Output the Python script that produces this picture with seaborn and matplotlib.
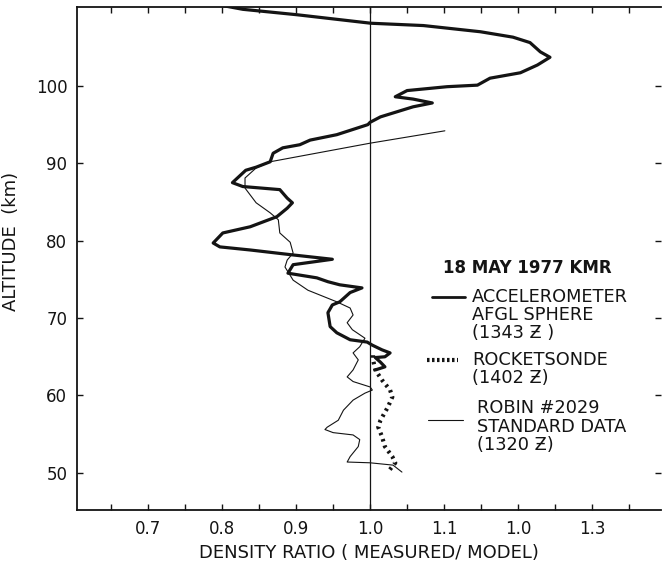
import matplotlib
matplotlib.use('Agg')
import matplotlib.pyplot as plt
import seaborn as sns
from matplotlib.lines import Line2D
from matplotlib.ticker import FixedLocator

# accelerometer, AFGL sphere (1343 Z): density ratio / altitude (km), read top to bottom
accel_ratio = [0.800, 0.828, 0.901, 1.001, 1.072, 1.149, 1.193, 1.216, 1.230, 1.243,
               1.226, 1.203, 1.162, 1.145, 1.104, 1.050, 1.034, 1.058, 1.084, 1.058,
               1.014, 1.000, 0.997, 0.955, 0.919, 0.905, 0.882, 0.869, 0.865, 0.846,
               0.832, 0.814, 0.828, 0.878, 0.888, 0.895, 0.888, 0.874, 0.838, 0.801,
               0.788, 0.797, 0.838, 0.892, 0.949, 0.896, 0.889, 0.928, 0.943, 0.959,
               0.989, 0.973, 0.959, 0.949, 0.943, 0.946, 0.955, 0.973, 0.996, 1.003,
               1.016, 1.027, 1.020, 1.007, 1.014, 1.020, 1.007]
accel_alt = [110.4, 109.9, 109.2, 108.1, 107.8, 107.0, 106.3, 105.6, 104.4, 103.7,
             102.7, 101.7, 101.0, 100.1, 99.9, 99.4, 98.6, 98.3, 97.8, 97.3,
             96.0, 95.3, 95.0, 93.7, 93.0, 92.4, 92.0, 91.3, 90.2, 89.5,
             89.1, 87.5, 87.0, 86.6, 85.5, 84.9, 84.2, 83.1, 81.8, 81.0,
             79.7, 79.2, 78.8, 78.2, 77.6, 76.9, 75.8, 75.2, 74.7, 74.3,
             73.9, 73.3, 72.1, 71.7, 70.7, 68.9, 68.1, 67.2, 66.9, 66.5,
             65.9, 65.5, 65.0, 64.9, 64.3, 63.7, 63.3]

# rocketsonde (1402 Z)
rocket_ratio = [1.004, 1.004, 1.007, 1.016, 1.027, 1.030, 1.024, 1.014, 1.011, 1.016,
                1.020, 1.030, 1.034, 1.024]
rocket_alt = [65.2, 64.6, 63.3, 62.0, 60.7, 59.8, 58.5, 56.8, 55.9, 54.7,
              53.4, 52.1, 51.3, 50.1]

# ROBIN #2029 standard data (1320 Z)
robin_ratio = [1.101, 1.000, 0.865, 0.846, 0.831, 0.831, 0.846, 0.865, 0.876, 0.878,
               0.892, 0.896, 0.888, 0.885, 0.896, 0.916, 0.955, 0.973, 0.977, 0.969,
               0.976, 0.993, 0.986, 0.977, 0.984, 0.977, 0.969, 0.977, 1.000, 1.003,
               0.993, 0.977, 0.964, 0.957, 0.942, 0.939, 0.950, 0.977, 0.986, 0.984,
               0.973, 0.969, 1.000, 1.031, 1.043]
robin_alt = [94.2, 92.6, 90.2, 89.4, 88.1, 86.8, 84.9, 83.6, 82.7, 81.0,
             79.8, 78.4, 77.5, 76.6, 74.9, 73.6, 72.1, 71.3, 70.4, 69.4,
             68.5, 67.4, 66.3, 65.5, 64.6, 63.3, 62.4, 61.8, 61.1, 60.7,
             60.3, 59.4, 58.1, 56.8, 55.9, 55.6, 55.2, 54.9, 54.3, 53.4,
             52.1, 51.4, 51.3, 51.0, 50.1]

x_ticks = [0.7, 0.8, 0.9, 1.0, 1.1, 1.2, 1.3]
x_tick_labels = ['0.7', '0.8', '0.9', '1.0', '1.1', '1.0', '1.3']
x_minor = [0.65, 0.75, 0.85, 0.95, 1.05, 1.15, 1.25, 1.35]
y_ticks = [50, 60, 70, 80, 90, 100]

ink = '#141414'

sns.set_theme(style='ticks')
plt.rcParams['font.family'] = ['DejaVu Sans']

fig = plt.figure(figsize=(6.62, 5.68), dpi=100)
ax = fig.add_axes([0.1163, 0.1021, 0.8822, 0.8856])

sns.lineplot(x=robin_ratio, y=robin_alt, sort=False, estimator=None,
             color=ink, linewidth=0.8, ax=ax)
sns.lineplot(x=accel_ratio, y=accel_alt, sort=False, estimator=None,
             color=ink, linewidth=2.3, ax=ax)
sns.lineplot(x=rocket_ratio, y=rocket_alt, sort=False, estimator=None,
             color=ink, linewidth=3.0, linestyle=(0, (0.6, 1.0)), ax=ax)

# reference line at ratio 1.0
ax.axvline(1.0, color=ink, linewidth=0.9)

ax.set_xlim(0.604, 1.393)
ax.set_ylim(45.2, 110.2)

ax.xaxis.set_major_locator(FixedLocator(x_ticks))
ax.xaxis.set_minor_locator(FixedLocator(x_minor))
ax.set_xticklabels(x_tick_labels)
ax.set_yticks(y_ticks)
ax.set_yticklabels([str(v) for v in y_ticks])

ax.tick_params(axis='both', which='both', direction='in', color=ink,
               labelcolor=ink, labelsize=12, width=1.0)
ax.tick_params(axis='x', which='both', length=4.5, top=True, pad=7.5)
ax.tick_params(axis='y', which='major', length=4.5, right=True, pad=7)

for side in ['left', 'bottom', 'top']:
    ax.spines[side].set_color(ink)
    ax.spines[side].set_linewidth(1.3)
ax.spines['right'].set_visible(False)

ax.set_xlabel('DENSITY RATIO ( MEASURED/ MODEL)', fontsize=13, color=ink, labelpad=4)
ax.set_ylabel('ALTITUDE  (km)', fontsize=13, color=ink)
ax.yaxis.set_label_coords(-0.098, 0.533)

# hand-drawn style key
ax.text(0.627, 0.481, '18 MAY 1977 KMR', transform=ax.transAxes, fontsize=12,
        fontweight='bold', color=ink, va='center')
ax.add_line(Line2D([0.608, 0.664], [0.4235, 0.4235], transform=ax.transAxes,
                   color=ink, linewidth=2.0))
ax.add_line(Line2D([0.599, 0.652], [0.298, 0.298], transform=ax.transAxes,
                   color=ink, linewidth=3.0, linestyle=(0, (0.6, 0.6))))
ax.add_line(Line2D([0.601, 0.661], [0.179, 0.179], transform=ax.transAxes,
                   color=ink, linewidth=0.8))

key_text = [
    (0.676, 0.4235, 'ACCELEROMETER'),
    (0.676, 0.3877, 'AFGL SPHERE'),
    (0.676, 0.352, '(1343 Ƶ )'),
    (0.676, 0.298, 'ROCKETSONDE'),
    (0.676, 0.262, '(1402 Ƶ)'),
    (0.685, 0.203, 'ROBIN #2029'),
    (0.685, 0.165, 'STANDARD DATA'),
    (0.685, 0.129, '(1320 Ƶ)'),
]
for tx, ty, s in key_text:
    ax.text(tx, ty, s, transform=ax.transAxes, fontsize=12.8, color=ink, va='center')

plt.savefig('out.png', dpi=100)
